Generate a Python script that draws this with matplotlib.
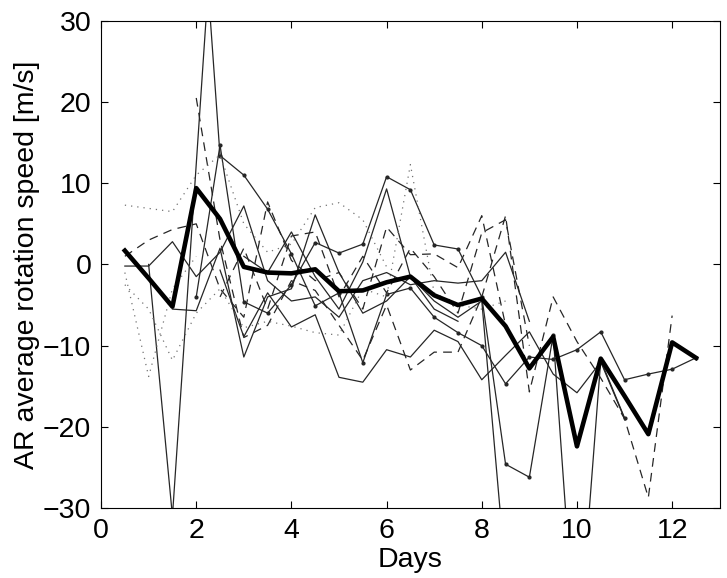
import numpy as np
import matplotlib
matplotlib.use('Agg')
import matplotlib.pyplot as plt

nan = np.nan

# days (0.5 day steps)
days = np.arange(0.5, 12.51, 0.5)

# mean rotation speed (thick line)
mean_speed = [1.7, -1.7, -5.2, 9.4, 5.6, -0.3, -1.0, -1.1, -0.6, -3.3, -3.2, -2.2, -1.5,
              -3.8, -5.0, -4.2, -7.6, -12.8, -8.9, -22.4, -11.6, -16.2, -20.9, -9.6, -11.5]

# individual regions, solid
spike_days = [1.0, 1.5, 2.25, 2.5]
spike_speed = [0.0, -31.0, 34.0, 13.4]

dots_a = [nan, nan, nan, nan, 13.4, 11.0, 6.8, 1.3, -5.1, -3.5, -12.1, -3.7, -2.9,
          -6.5, -8.4, -10.0, -14.7, -11.4, -11.7, -10.5, -8.3, -14.2, -13.5, -12.9, -11.5]
dots_b = [nan, nan, nan, -4.0, 14.7, -4.6, -6.0, -2.5, 2.7, 1.4, 2.5, 10.8, 9.2,
          2.4, 1.9, -4.0, -24.6, -26.2, -8.7, -50.0, -11.8, -18.9, nan, nan, nan]
low = [nan, nan, nan, nan, -0.7, -8.9, -3.5, -7.7, -6.2, -13.9, -14.5, -10.5, -11.4,
       -8.1, -9.5, -14.2, -11.2, -8.3, -13.5, -15.8, -12.0, -19.0, nan, nan, nan]
solid3 = [-0.2, -0.2, 2.8, -1.5, 1.5, 7.2, -2.0, -4.5, -4.0, -6.5, -2.0, -1.0, -2.5,
          -2.0, -2.3, -2.0, 1.5, -7.0, nan, nan, nan, nan, nan, nan, nan]
solid4 = [nan, nan, -5.5, -5.7, 2.0, -11.4, -4.0, -3.0, 6.1, -1.0, -6.0, -4.5, -1.5,
          -4.5, -6.5, -4.5, -38.0, nan, nan, nan, nan, nan, nan, nan, nan]
solid5 = [nan, nan, nan, nan, nan, 1.0, -1.0, 4.0, -1.5, -5.5, 0.3, 9.3, -1.5,
          -5.5, -7.0, nan, nan, nan, nan, nan, nan, nan, nan, nan, nan]

# dashed
dash1 = [1.0, 3.0, 4.3, 5.0, -3.0, -6.5, 7.7, 0.5, -2.0, -1.0, -5.5, 4.6, 1.2,
         1.3, -0.4, 6.0, -7.5, -13.0, nan, nan, nan, nan, nan, nan, nan]
dash2 = [nan, nan, nan, 20.5, 3.0, -9.0, -7.5, -2.0, -3.2, -7.5, -11.8, -5.0, -13.0,
         -10.8, -10.8, -4.0, 6.0, -15.7, -4.0, -9.5, -14.0, -19.0, -28.7, -6.3, nan]
dash3 = [nan, nan, nan, nan, -4.0, 2.0, -5.5, 3.5, 4.0, -4.0, 1.0, -3.5, 2.0,
         -1.5, -6.0, 3.9, 5.5, -10.0, nan, nan, nan, nan, nan, nan, nan]

# dotted
dot1 = [7.3, 6.9, 6.5, 11.0, 13.5, 5.0, 1.5, 2.5, 7.0, 7.6, 5.5, -0.3, nan,
        nan, nan, nan, nan, nan, nan, nan, nan, nan, nan, nan, nan]
dot2 = [-1.0, -13.8, -3.0, 1.0, nan, nan, nan, nan, nan, nan, nan, nan, nan,
        nan, nan, nan, nan, nan, nan, nan, nan, nan, nan, nan, nan]
dot3 = [-2.5, -5.5, -11.8, -6.0, -3.0, -7.8, -7.0, -7.6, -8.4, -8.7, -3.0, -4.0, 12.3,
        -3.5, -5.0, -5.5, -4.5, nan, nan, nan, nan, nan, nan, nan, nan]

plt.rcParams['font.family'] = ['Liberation Sans', 'DejaVu Sans']
plt.rcParams['font.size'] = 20.5

fig = plt.figure(figsize=(7.27, 5.78), dpi=100)
ax = fig.add_axes([0.139, 0.121, 0.851, 0.843])

thin = dict(color='0.15', lw=0.9)
ax.plot(spike_days, spike_speed, **thin)
for s in [low, solid3, solid4, solid5]:
    ax.plot(days, s, **thin)
for s in [dots_a, dots_b]:
    ax.plot(days, s, marker='.', ms=4, **thin)
for s in [dash1, dash2, dash3]:
    ax.plot(days, s, color='0.15', lw=0.9, ls=(0, (7, 5)))
for s in [dot1, dot2, dot3]:
    ax.plot(days, s, color='0.45', lw=0.9, ls=(0, (1, 4)))

ax.plot(days, mean_speed, color='k', lw=3.3)

ax.set_xlim(0, 13)
ax.set_ylim(-30, 30)
ax.set_xticks([0, 2, 4, 6, 8, 10, 12])
ax.set_yticks([-30, -20, -10, 0, 10, 20, 30])
ax.tick_params(direction='in', top=True, right=True, length=5, width=0.8, pad=7)
for sp in ax.spines.values():
    sp.set_linewidth(0.8)

ax.set_xlabel('Days', labelpad=2)
ax.set_ylabel('AR average rotation speed [m/s]', labelpad=2)

fig.savefig('out.png', dpi=100)
